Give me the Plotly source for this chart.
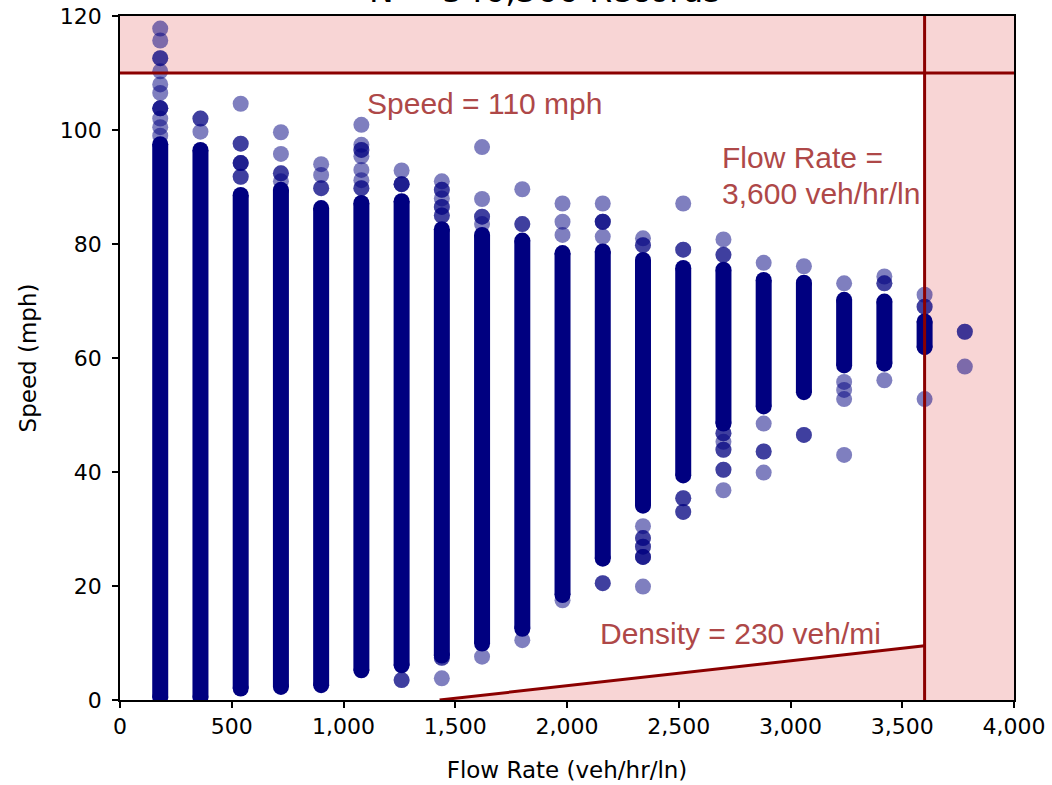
import plotly.graph_objects as go

# ---------------- data ----------------
flow_values = [180, 360, 540, 720, 900, 1080, 1260, 1440, 1620, 1800, 1980,
               2160, 2340, 2520, 2700, 2880, 3060, 3240, 3420, 3600, 3780]

# dense (overplotted) range of speeds for each flow value
core_low = [0.5, 0.5, 2.0, 2.3, 2.6, 5.2, 6.1, 7.8, 9.9, 12.5, 18.4,
            24.8, 34.1, 39.4, 48.5, 51.5, 54.0, 58.7, 59.0, 61.9, None]
core_high = [97.5, 96.5, 88.6, 89.5, 86.3, 87.2, 87.5, 82.6, 81.6, 80.6, 78.4,
             78.7, 77.2, 75.8, 75.5, 73.7, 73.2, 70.2, 69.9, 66.4, None]

# sparse records outside the dense range (repeats = overlapping records)
sparse_speeds = [
    [117.8, 115.7, 112.6, 112.6, 110.3, 108.0, 106.5, 103.8, 103.8, 103.8, 102.0, 100.5, 99.0],
    [102.0, 102.0, 99.7],
    [104.6, 97.6, 97.6, 94.2, 94.2, 94.2, 91.8, 91.8],
    [99.6, 95.8, 92.4, 92.4, 91.0],
    [94.0, 92.1, 89.8, 89.8],
    [100.9, 97.4, 96.5, 96.5, 95.4, 93.0, 91.2, 89.8, 89.8],
    [92.9, 90.5, 90.5, 90.5, 3.5, 3.5],
    [91.0, 89.5, 89.5, 88.0, 86.5, 86.5, 85.0, 85.0, 7.4, 7.4, 3.8],
    [97.0, 87.9, 84.8, 84.8, 83.5, 7.6],
    [89.6, 83.5, 83.5, 10.5],
    [87.1, 83.9, 81.6, 17.5],
    [87.1, 83.9, 83.9, 83.9, 81.3, 20.5, 20.5],
    [81.0, 79.8, 79.8, 30.5, 28.4, 28.4, 26.9, 26.9, 25.1, 25.1, 25.1, 19.9],
    [87.1, 79.0, 79.0, 35.4, 35.4, 33.0, 33.0],
    [80.8, 78.1, 78.1, 46.8, 46.8, 45.3, 43.9, 43.9, 40.4, 40.4, 36.8],
    [76.7, 48.5, 43.6, 43.6, 39.9],
    [76.1, 46.5, 46.5],
    [73.1, 55.8, 54.4, 52.8, 43.0],
    [74.3, 73.1, 73.1, 56.1],
    [71.1, 69.0, 69.0, 52.8],
    [64.6, 64.6, 58.5],
]

speed_limit = 110          # mph
flow_limit = 3600          # veh/hr/ln
density_line_flow = [1430, 3600]
density_line_speed = [0, 9.5]

x_ticks = [0, 500, 1000, 1500, 2000, 2500, 3000, 3500, 4000]
y_ticks = [0, 20, 40, 60, 80, 100, 120]
x_range = [0, 4000]
y_range = [0, 120]

title_text = "N = 546,366 Records"

# ---------------- styles ----------------
NAVY = "#000080"
NAVY_A = "rgba(0,0,128,0.5)"
PINK = "#F8D5D5"
DARKRED = "#8B0000"
TXT_RED = "#AE4848"
MSIZE = 16

fig = go.Figure()

# dense cores
cx, cy = [], []
for f, lo, hi in zip(flow_values, core_low, core_high):
    if lo is None:
        continue
    cx += [f, f, None]
    cy += [lo, hi, None]
fig.add_trace(go.Scatter(x=cx, y=cy, mode="lines+markers",
                         line=dict(color=NAVY, width=MSIZE),
                         marker=dict(color=NAVY, size=MSIZE, line=dict(width=0)),
                         hoverinfo="skip", showlegend=False))

# sparse records
sx, sy = [], []
for f, vals in zip(flow_values, sparse_speeds):
    for v in vals:
        sx.append(f)
        sy.append(v)
fig.add_trace(go.Scatter(x=sx, y=sy, mode="markers",
                         marker=dict(color=NAVY_A, size=MSIZE, line=dict(width=0)),
                         showlegend=False))

# shaded infeasible regions
fig.add_shape(type="rect", xref="x", yref="y", x0=x_range[0], x1=x_range[1],
              y0=speed_limit, y1=y_range[1], fillcolor=PINK, line_width=0, layer="below")
fig.add_shape(type="rect", xref="x", yref="y", x0=flow_limit, x1=x_range[1],
              y0=y_range[0], y1=speed_limit, fillcolor=PINK, line_width=0, layer="below")
fig.add_shape(type="path", xref="x", yref="y",
              path=(f"M {density_line_flow[0]},{density_line_speed[0]} "
                    f"L {density_line_flow[1]},{density_line_speed[1]} "
                    f"L {density_line_flow[1]},{y_range[0]} Z"),
              fillcolor=PINK, line_width=0, layer="below")

# boundary lines
fig.add_shape(type="line", xref="x", yref="y", x0=x_range[0], x1=x_range[1],
              y0=speed_limit, y1=speed_limit, line=dict(color=DARKRED, width=3), layer="above")
fig.add_shape(type="line", xref="x", yref="y", x0=flow_limit, x1=flow_limit,
              y0=y_range[0], y1=y_range[1], line=dict(color=DARKRED, width=3), layer="above")
fig.add_shape(type="line", xref="x", yref="y",
              x0=density_line_flow[0], x1=density_line_flow[1],
              y0=density_line_speed[0], y1=density_line_speed[1],
              line=dict(color=DARKRED, width=3), layer="above")

ann_font = dict(family="Liberation Sans, Arial, sans-serif", size=30, color=TXT_RED)
fig.add_annotation(x=1096, y=104.7, xref="x", yref="y", text="Speed = 110 mph",
                   showarrow=False, xanchor="left", yanchor="middle", font=ann_font)
fig.add_annotation(x=2685, y=95.1, xref="x", yref="y", text="Flow Rate =",
                   showarrow=False, xanchor="left", yanchor="middle", font=ann_font)
fig.add_annotation(x=2685, y=88.9, xref="x", yref="y", text="3,600 veh/hr/ln",
                   showarrow=False, xanchor="left", yanchor="middle", font=ann_font)
fig.add_annotation(x=2139, y=11.6, xref="x", yref="y", text="Density = 230 veh/mi",
                   showarrow=False, xanchor="left", yanchor="middle", font=ann_font)

# title (partially cut off at the top of the page, as in the reference)
fig.add_annotation(x=0.475, y=1.006, xref="paper", yref="paper", text=title_text,
                   showarrow=False, xanchor="center", yanchor="bottom",
                   font=dict(family="DejaVu Sans, sans-serif", size=33, color="#000000"))

tick_font = dict(family="DejaVu Sans, sans-serif", size=22, color="#000000")
title_font = dict(family="DejaVu Sans, sans-serif", size=23, color="#000000")
fig.update_xaxes(range=x_range, tickvals=x_ticks, tickformat=",d", automargin=False,
                 showgrid=False, zeroline=False, showline=True, linecolor="#000000",
                 linewidth=1.5, mirror=True, ticks="outside", ticklen=6, tickwidth=1.5,
                 tickcolor="#000000", tickfont=tick_font,
                 title=dict(text="Flow Rate (veh/hr/ln)", font=title_font, standoff=24))
fig.update_yaxes(range=y_range, tickvals=y_ticks, automargin=False,
                 showgrid=False, zeroline=False, showline=True, linecolor="#000000",
                 linewidth=1.5, mirror=True, ticks="outside", ticklen=6, tickwidth=1.5,
                 tickcolor="#000000", tickfont=tick_font, ticklabelstandoff=6,
                 title=dict(text="Speed (mph)", font=title_font, standoff=17))

fig.update_layout(width=1052, height=785,
                  margin=dict(l=120, r=38, t=16, b=85, autoexpand=False),
                  plot_bgcolor="#FFFFFF", paper_bgcolor="#FFFFFF",
                  showlegend=False, hovermode=False)

fig.write_html("out.html", config={"displayModeBar": False},
               post_script="document.body.style.margin='0';document.body.style.overflow='hidden';")
